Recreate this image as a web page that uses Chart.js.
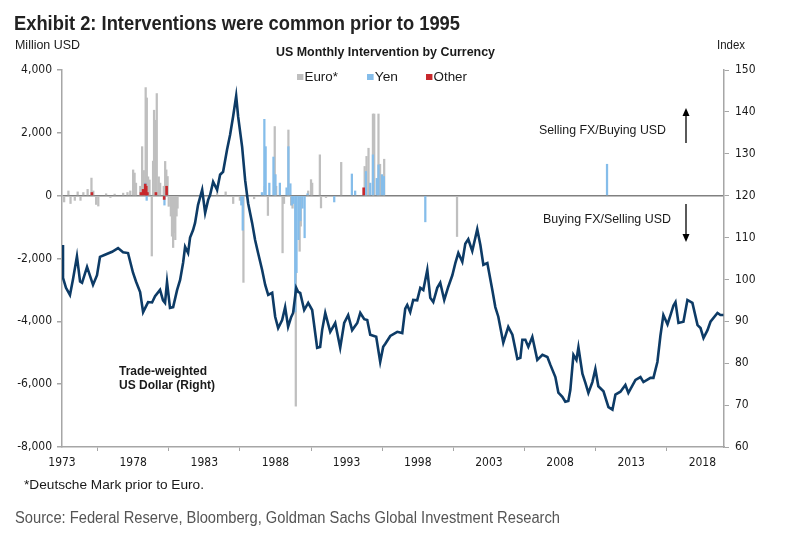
<!DOCTYPE html>
<html><head><meta charset="utf-8">
<script src="https://cdn.jsdelivr.net/npm/chart.js@4.4.1/dist/chart.umd.min.js"></script>
<style>
html,body{margin:0;padding:0;background:#fff;}
#wrap{position:relative;width:785px;height:544px;overflow:hidden;font-family:"Liberation Sans",Arial,sans-serif;color:#1a1a1a;}
canvas{position:absolute;left:0;top:0;}
.t{position:absolute;white-space:nowrap;line-height:1;transform-origin:0 50%;}
.sq{display:inline-block;width:6px;height:6px;margin-right:1px;vertical-align:1px;}
svg{position:absolute;left:0;top:0;}
</style></head><body>
<div id="wrap">
<canvas id="c" width="785" height="544"></canvas>
<div class="t fit" data-w="446" style="left:14px;top:12px;font-size:21px;font-weight:bold;color:#222;">Exhibit 2: Interventions were common prior to 1995</div>
<div class="t fit" data-w="65" style="left:15px;top:39px;font-size:12px;">Million USD</div>
<div class="t fit" data-w="28" style="left:717px;top:39px;font-size:12px;">Index</div>
<div class="t fit" data-w="219" style="left:276px;top:46px;font-size:12px;font-weight:bold;">US Monthly Intervention by Currency</div>
<div class="t fit" data-w="41" style="left:297px;top:71px;font-size:12.5px;"><span class="sq" style="background:#bfbfbf"></span>Euro*</div>
<div class="t fit" data-w="31" style="left:367px;top:71px;font-size:12.5px;"><span class="sq" style="background:#85bdea"></span>Yen</div>
<div class="t fit" data-w="41" style="left:426px;top:71px;font-size:12.5px;"><span class="sq" style="background:#c8282c"></span>Other</div>
<div class="t fit" data-w="127" style="left:539px;top:124px;font-size:12px;">Selling FX/Buying USD</div>
<div class="t fit" data-w="128" style="left:543px;top:213px;font-size:12px;">Buying FX/Selling USD</div>
<div class="t" style="left:119px;top:364px;font-size:12px;font-weight:bold;line-height:14px;">Trade-weighted<br>US Dollar (Right)</div>
<div class="t fit" data-w="180" style="left:24px;top:478px;font-size:13px;">*Deutsche Mark prior to Euro.</div>
<div class="t fit" data-w="545" style="left:15px;top:510px;font-size:16px;color:#555;">Source: Federal Reserve, Bloomberg, Goldman Sachs Global Investment Research</div>
<svg width="785" height="544">
<line x1="686" y1="143" x2="686" y2="114" stroke="#000" stroke-width="1.3"/>
<polygon points="682.5,116 689.5,116 686,108" fill="#000"/>
<line x1="686" y1="204" x2="686" y2="235" stroke="#000" stroke-width="1.3"/>
<polygon points="682.5,234 689.5,234 686,242" fill="#000"/>
</svg>
</div>
<script>
const xTicks = [1973,1978,1983,1988,1993,1998,2003,2008,2013,2018];

const euroYears = [1973.15,1973.45,1973.6,1973.9,1974.1,1974.3,1974.5,1974.8,1975.07,1975.2,1975.4,1975.55,1976.1,1976.4,1976.7,1977.3,1977.6,1977.8,1978.0,1978.1,1978.2,1978.5,1978.63,1978.75,1978.88,1978.96,1979.05,1979.15,1979.31,1979.4,1979.47,1979.57,1979.66,1979.8,1979.9,1980.15,1980.25,1980.33,1980.42,1980.5,1980.65,1980.73,1980.81,1980.88,1980.96,1981.05,1981.12,1983.9,1984.5,1985.03,1985.5,1985.75,1986.5,1987.25,1987.47,1987.95,1988.05,1988.5,1988.6,1988.91,1989.1,1989.2,1989.43,1989.7,1989.78,1990.3,1990.5,1990.58,1991.12,1991.2,1991.55,1992.62,1994.27,1994.4,1994.54,1994.85,1994.94,1995.24,1995.35,1995.64,2000.76];
const euroValues = [-200,150,-250,-150,120,-150,100,200,560,150,-280,-330,60,-60,50,80,100,150,820,720,400,300,1560,800,3440,3110,600,500,-1920,1100,2720,2400,3250,600,400,300,1090,820,610,-340,-650,-1290,-1650,-1180,-1400,-650,-400,150,120,-250,-150,-2760,-100,300,-630,2200,300,-1820,-250,2090,-300,-400,-6700,-1770,-970,150,510,400,1300,-390,-60,1060,930,1250,1510,2600,2600,2600,1000,1160,-1300];

const yenYears = [1978.85,1978.95,1980.2,1985.6,1985.7,1987.05,1987.22,1987.31,1987.57,1987.86,1988.0,1988.31,1988.78,1988.91,1989.05,1989.15,1989.25,1989.39,1989.48,1989.62,1989.75,1989.9,1990.05,1990.25,1992.13,1993.37,1993.6,1994.36,1994.66,1994.85,1995.12,1995.24,1995.48,1995.62,1998.53,2011.3];
const yenValues = [400,-150,-300,-300,-1100,100,2430,1560,400,1230,670,400,250,1560,380,-300,-250,-3700,-2450,-1400,-800,-400,-1340,60,-200,690,150,770,400,1300,550,980,670,610,-833,1000];

const otherYears = [1975.1,1978.55,1978.7,1978.85,1978.92,1979.0,1979.6,1980.18,1980.35,1994.2];
const otherValues = [100,100,200,370,300,100,100,-120,300,250];

const twYears = [1973.00,1973.07,1973.28,1973.56,1973.77,1974.05,1974.27,1974.41,1974.76,1975.18,1975.46,1975.67,1976.02,1976.52,1976.94,1977.29,1977.64,1977.99,1978.20,1978.49,1978.70,1979.05,1979.33,1979.54,1979.89,1980.10,1980.24,1980.38,1980.59,1980.81,1981.09,1981.30,1981.51,1981.65,1981.86,1982.00,1982.21,1982.35,1982.56,1982.85,1983.06,1983.27,1983.41,1983.62,1983.90,1984.11,1984.32,1984.60,1984.81,1985.03,1985.24,1985.38,1985.66,1985.87,1986.08,1986.36,1986.57,1986.78,1987.06,1987.28,1987.49,1987.77,1987.98,1988.19,1988.47,1988.68,1988.89,1989.10,1989.24,1989.46,1989.60,1989.74,1990.02,1990.30,1990.58,1990.93,1991.14,1991.28,1991.50,1991.85,1992.20,1992.55,1992.83,1993.11,1993.39,1993.75,1993.96,1994.24,1994.45,1994.66,1995.08,1995.36,1995.57,1995.71,1996.07,1996.56,1996.91,1997.12,1997.26,1997.47,1997.68,1997.96,1998.18,1998.39,1998.67,1998.88,1999.09,1999.37,1999.58,1999.86,2000.14,2000.43,2000.64,2000.85,2001.13,2001.34,2001.55,2001.83,2002.04,2002.18,2002.40,2002.61,2002.89,2003.24,2003.45,2003.66,2004.01,2004.36,2004.65,2005.00,2005.21,2005.35,2005.56,2005.77,2006.05,2006.40,2006.76,2007.11,2007.32,2007.67,2007.88,2008.16,2008.37,2008.58,2008.72,2008.94,2009.15,2009.29,2009.57,2009.78,2009.99,2010.27,2010.48,2010.69,2011.05,2011.40,2011.68,2011.89,2012.24,2012.59,2012.80,2013.30,2013.65,2013.86,2014.35,2014.56,2014.84,2015.05,2015.26,2015.55,2015.76,2015.97,2016.11,2016.32,2016.67,2016.95,2017.30,2017.66,2017.87,2018.08,2018.36,2018.57,2019.06,2019.27,2019.48];
const twIndex = [108.2,100.4,98.0,96.3,100.0,105.5,99.5,99.2,103.0,98.7,101.0,105.4,105.9,106.6,107.5,106.5,106.3,101.6,99.5,97.0,92.2,94.6,94.5,96.0,97.5,95.0,94.4,99.4,93.2,93.4,97.5,99.9,104.0,107.8,106.3,110.0,111.8,113.5,117.8,121.4,115.9,119.0,120.2,123.3,121.4,125.0,125.7,131.0,134.5,139.0,143.8,138.8,131.6,123.7,118.2,113.5,109.4,106.3,102.3,98.7,96.3,96.8,91.1,88.4,90.3,93.4,88.7,91.0,92.0,98.0,97.0,96.8,92.7,94.4,92.7,83.7,83.9,87.9,92.0,87.5,89.6,83.7,89.6,91.5,87.9,89.6,92.0,90.5,90.3,86.8,86.3,80.3,83.9,84.6,86.5,87.5,87.2,93.0,93.9,92.2,95.1,95.0,98.0,97.5,102.3,95.6,94.6,98.0,99.2,95.1,98.2,101.0,103.9,106.3,104.2,108.5,109.6,106.8,109.9,112.0,108.2,103.5,103.9,97.5,93.4,91.1,84.9,88.7,86.8,81.0,81.3,85.6,85.6,83.9,86.3,80.8,82.0,81.5,79.6,76.7,73.0,72.0,70.8,71.0,73.6,82.0,80.8,83.8,77.5,75.3,72.9,75.5,78.6,74.5,73.3,69.5,68.9,72.5,73.2,74.8,72.9,76.0,76.7,75.5,76.5,76.5,80.3,86.5,91.5,89.3,91.5,93.8,94.6,89.6,89.9,95.1,94.4,89.1,88.4,86.0,87.9,89.9,92.0,91.5,91.5];

document.querySelectorAll('.fit').forEach(el => {
  const w = el.getBoundingClientRect().width;
  const target = parseFloat(el.dataset.w);
  if (w > 0) el.style.transform = 'scaleX(' + (target / w).toFixed(4) + ')';
});

const pts = (xs, ys) => xs.map((x, i) => ({x: x, y: ys[i]}));
const FONT = {family: '"DejaVu Sans Condensed","Liberation Sans",sans-serif', size: 12};
const AX = '#a6a6a6';

new Chart(document.getElementById('c'), {
  type: 'bar',
  data: {
    datasets: [
      {type: 'line', label: 'Trade-weighted US Dollar (Right)', data: pts(twYears, twIndex), yAxisID: 'y2',
       borderColor: '#0d3b66', borderWidth: 2.6, pointRadius: 0, tension: 0, order: 0},
      {label: 'Other', data: pts(otherYears, otherValues), yAxisID: 'y', backgroundColor: '#c8282c',
       barThickness: 2, grouped: false, order: 1},
      {label: 'Yen', data: pts(yenYears, yenValues), yAxisID: 'y', backgroundColor: '#85bdea',
       barThickness: 1.6, grouped: false, order: 2},
      {label: 'Euro*', data: pts(euroYears, euroValues), yAxisID: 'y', backgroundColor: '#bfbfbf',
       barThickness: 1.6, grouped: false, order: 3}
    ]
  },
  options: {
    responsive: false, animation: false, events: [],
    layout: {padding: {top: 70, left: 0, right: 0, bottom: 0}},
    plugins: {legend: {display: false}, tooltip: {enabled: false}},
    scales: {
      x: {type: 'linear', min: 1973, max: 2019.52, offset: false,
          afterBuildTicks: s => { s.ticks = xTicks.map(v => ({value: v})); },
          afterFit: s => { s.height = 97; },
          ticks: {callback: v => String(v), font: FONT, color: '#1a1a1a', padding: 5, maxRotation: 0, autoSkip: false},
          grid: {display: true, drawOnChartArea: false, tickLength: 4, color: AX},
          border: {color: AX, width: 1.5}},
      y: {position: 'left', min: -8000, max: 4000,
          afterBuildTicks: s => { s.ticks = [-8000,-6000,-4000,-2000,0,2000,4000].map(v => ({value: v})); },
          afterFit: s => { s.width = 62; },
          ticks: {callback: v => v.toLocaleString('en-US'), font: FONT, color: '#1a1a1a', padding: 5},
          grid: {color: c => (c.tick && c.tick.value === 0) ? '#808080' : 'rgba(0,0,0,0)', lineWidth: 1.5,
                 tickColor: AX, tickLength: 5},
          border: {color: AX, width: 1.5}},
      y2: {position: 'right', min: 60, max: 150,
          afterBuildTicks: s => { s.ticks = [60,70,80,90,100,110,120,130,140,150].map(v => ({value: v})); },
          afterFit: s => { s.width = 61; },
          ticks: {font: FONT, color: '#1a1a1a', padding: 6},
          grid: {drawOnChartArea: false, tickLength: 5, color: AX},
          border: {color: AX, width: 1.5}}
    }
  }
});
</script>
</body></html>
